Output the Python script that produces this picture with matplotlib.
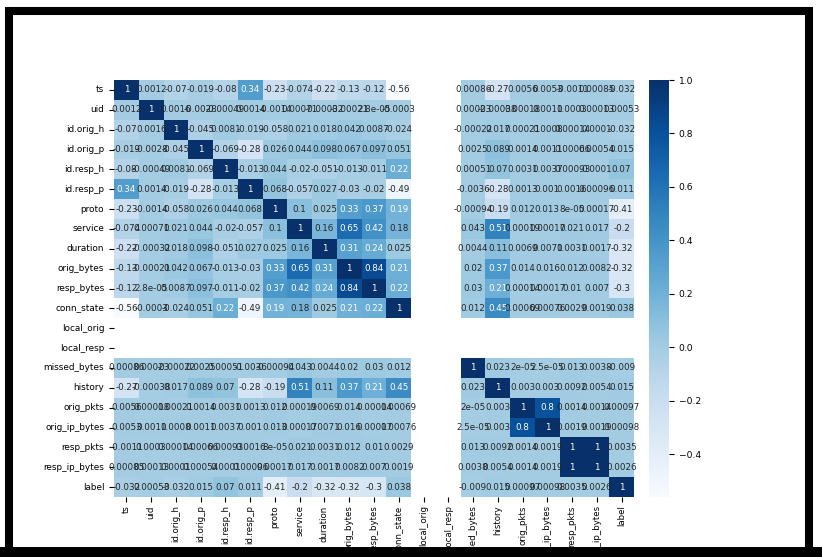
import numpy as np
import pandas as pd
import matplotlib
matplotlib.use("Agg")
import matplotlib.pyplot as plt
import seaborn as sns
from matplotlib.patches import Rectangle

nan = np.nan

columns = ["ts", "uid", "id.orig_h", "id.orig_p", "id.resp_h", "id.resp_p",
           "proto", "service", "duration", "orig_bytes", "resp_bytes",
           "conn_state", "local_orig", "local_resp", "missed_bytes", "history",
           "orig_pkts", "orig_ip_bytes", "resp_pkts", "resp_ip_bytes", "label"]

# lower triangle of the correlation matrix, one list per row
ts = [1]
uid = [0.0012, 1]
orig_h = [-0.07, 0.0016, 1]
orig_p = [-0.019, -0.0028, -0.045, 1]
resp_h = [-0.08, -0.00049, 0.0081, -0.069, 1]
resp_p = [0.34, 0.0014, -0.019, -0.28, -0.013, 1]
proto = [-0.23, -0.0014, -0.058, 0.026, 0.044, 0.068, 1]
service = [-0.074, 0.00071, 0.021, 0.044, -0.02, -0.057, 0.1, 1]
duration = [-0.22, -0.00032, 0.018, 0.098, -0.051, 0.027, 0.025, 0.16, 1]
orig_bytes = [-0.13, -0.00021, 0.042, 0.067, -0.013, -0.03, 0.33, 0.65, 0.31, 1]
resp_bytes = [-0.12, 2.8e-05, 0.0087, 0.097, -0.011, -0.02, 0.37, 0.42, 0.24, 0.84, 1]
conn_state = [-0.56, -0.0003, -0.024, 0.051, 0.22, -0.49, 0.19, 0.18, 0.025, 0.21, 0.22, 1]
local_orig = [nan] * 13
local_resp = [nan] * 14
missed_bytes = [0.00086, 0.00023, -0.00022, 0.0025, 0.00051, -0.0036, -0.00094, 0.043,
                0.0044, 0.02, 0.03, 0.012, nan, nan, 1]
history = [-0.27, -0.00038, 0.017, 0.089, 0.07, -0.28, -0.19, 0.51, 0.11, 0.37, 0.21,
           0.45, nan, nan, 0.023, 1]
orig_pkts = [0.0056, 0.00018, 0.00021, 0.0014, 0.0031, 0.0013, 0.012, 0.00019, 0.0069,
             0.014, 0.00014, 0.00069, nan, nan, 2e-05, 0.003, 1]
orig_ip_bytes = [0.0053, 0.0011, 0.0008, 0.0011, 0.0037, 0.001, 0.013, 0.00017, 0.0071,
                 0.016, 0.00017, 0.00076, nan, nan, 2.5e-05, 0.003, 0.8, 1]
resp_pkts = [-0.0011, 0.0003, 0.00014, 0.00066, 0.00093, 0.0016, 8e-05, 0.021, 0.0031,
             0.012, 0.01, 0.0029, nan, nan, 0.013, 0.0092, 0.0014, 0.0019, 1]
resp_ip_bytes = [0.00085, 0.00013, 0.0001, 0.00054, 0.0001, 0.00096, 0.00017, 0.017,
                 0.0017, 0.0082, 0.007, 0.0019, nan, nan, 0.0038, 0.0054, 0.0014, 0.0019,
                 1, 1]
label = [-0.032, 0.00053, -0.032, 0.015, 0.07, 0.011, -0.41, -0.2, -0.32, -0.32, -0.3,
         0.038, nan, nan, -0.009, 0.015, 0.00097, 0.00098, 0.0035, 0.0026, 1]

rows = [ts, uid, orig_h, orig_p, resp_h, resp_p, proto, service, duration, orig_bytes,
        resp_bytes, conn_state, local_orig, local_resp, missed_bytes, history, orig_pkts,
        orig_ip_bytes, resp_pkts, resp_ip_bytes, label]

n = len(columns)
corr = np.full((n, n), nan)
for i, r in enumerate(rows):
    for j, v in enumerate(r):
        corr[i, j] = v
        corr[j, i] = v
# the two constant columns have no correlation at all
corr[12, :] = nan
corr[:, 12] = nan
corr[13, :] = nan
corr[:, 13] = nan
df = pd.DataFrame(corr, index=columns, columns=columns)

fig = plt.figure(figsize=(8.22, 5.57), dpi=100)
W, H = 822, 557
ax = fig.add_axes([114 / W, 1 - 497 / H, 520 / W, 417 / H])
cax = fig.add_axes([649 / W, 1 - 497 / H, 20 / W, 417 / H])

sns.heatmap(df, annot=True, cmap="Blues", ax=ax, cbar_ax=cax,
            xticklabels=columns, yticklabels=columns,
            annot_kws={"fontsize": 6.3})
ax.tick_params(axis="y", labelsize=6.4)
ax.tick_params(axis="x", labelsize=6.2, pad=2.5)
plt.setp(ax.get_xticklabels(), rotation=90)
plt.setp(ax.get_yticklabels(), rotation=0)
cax.tick_params(labelsize=6.6)

# black border round the whole picture
frame = Rectangle((9 / W, 1 - 552 / H), 800 / W, 541 / H, transform=fig.transFigure,
                  fill=False, edgecolor="black", linewidth=5.8, zorder=10)
fig.add_artist(frame)
fig.add_artist(Rectangle((0, 0), 1, 10 / H, transform=fig.transFigure,
                         facecolor="black", edgecolor="none", zorder=10))

fig.savefig("out.png", dpi=100)
